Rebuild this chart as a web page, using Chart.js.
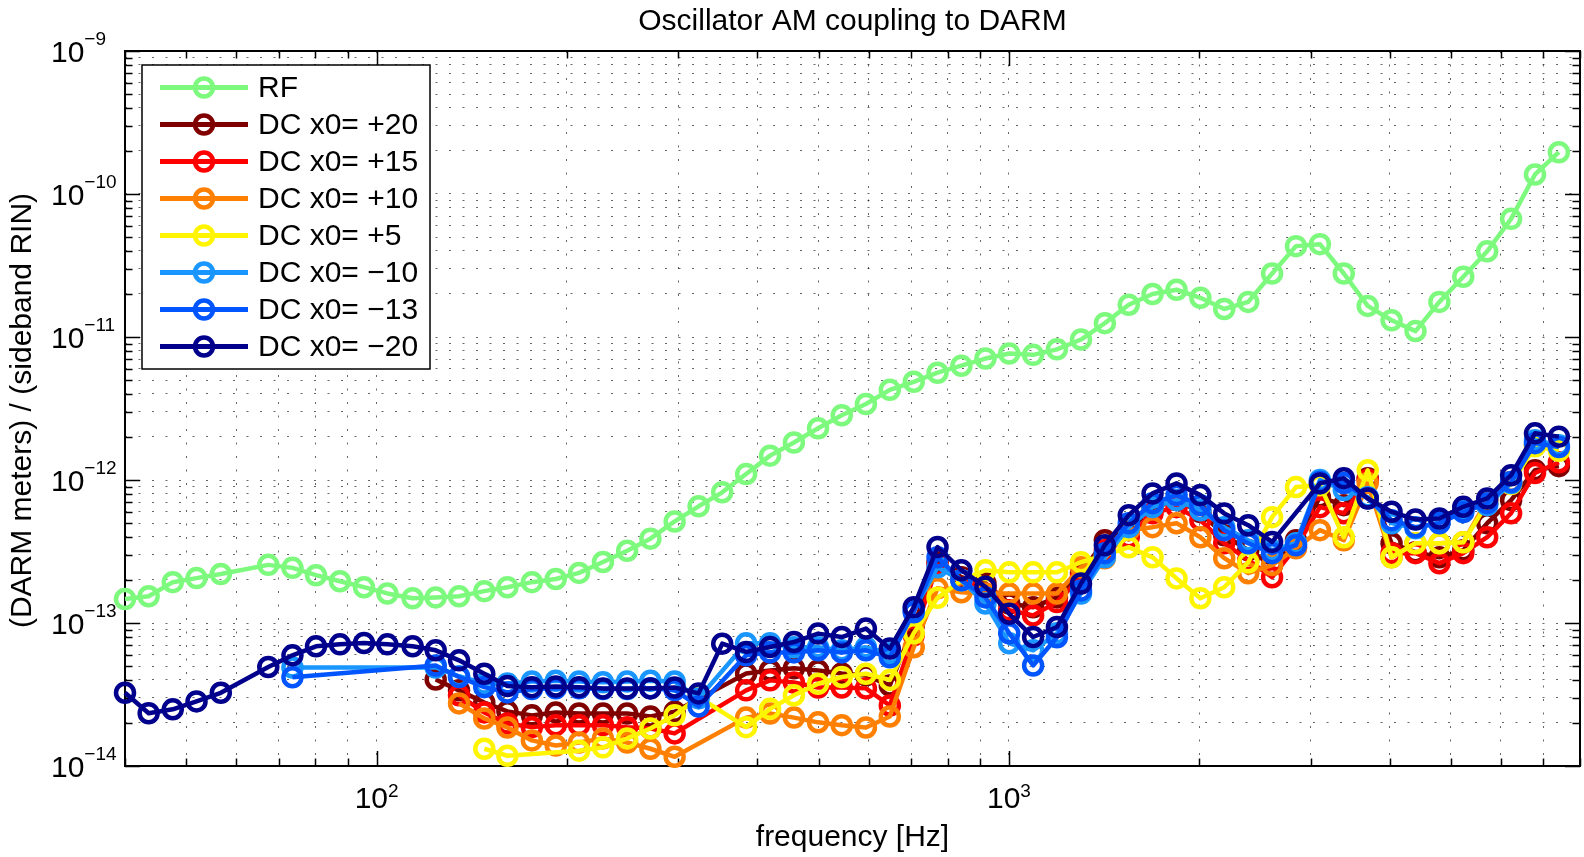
<!DOCTYPE html>
<html>
<head>
<meta charset="utf-8">
<script src="https://cdn.jsdelivr.net/npm/chart.js@4.4.1/dist/chart.umd.min.js"></script>
<style>
  html, body { margin: 0; padding: 0; background: #fff; }
  canvas { display: block; }
</style>
</head>
<body>
<canvas id="amChart" width="1584" height="857"></canvas>
<script>
// drive frequencies [Hz]
const freqs = [40, 43.6, 47.6, 51.9, 56.7, 61.8, 67.4, 73.6, 80.2, 87.5,
  95.5, 104, 114, 124, 135, 148, 161, 176, 192, 209,
  228, 249, 271, 296, 323, 352, 384, 419, 457, 499,
  544, 594, 648, 707, 771, 841, 918, 1001, 1092, 1191,
  1300, 1418, 1547, 1687, 1841, 2008, 2190, 2390, 2607, 2844,
  3103, 3385, 3693, 4028, 4395, 4794, 5230, 5706, 6225, 6791, 7408];

// DARM meters per sideband RIN, null where no point was measured
const rf = [1.47e-13, 1.54e-13, 1.93e-13, 2.06e-13, 2.2e-13, null, 2.55e-13, 2.43e-13, 2.16e-13, 1.96e-13,
  1.78e-13, 1.61e-13, 1.49e-13, 1.51e-13, 1.54e-13, 1.67e-13, 1.78e-13, 1.93e-13, 2.03e-13, 2.24e-13,
  2.67e-13, 3.2e-13, 3.89e-13, 5.13e-13, 6.55e-13, 8.2e-13, 1.1e-12, 1.48e-12, 1.83e-12, 2.3e-12,
  2.84e-12, 3.4e-12, 4.27e-12, 4.86e-12, 5.63e-12, 6.3e-12, 7.07e-12, 7.67e-12, 7.5e-12, 8.2e-12,
  9.6e-12, 1.25e-11, 1.68e-11, 2.0e-11, 2.14e-11, 1.88e-11, 1.57e-11, 1.76e-11, 2.78e-11, 4.32e-11,
  4.46e-11, 2.78e-11, 1.65e-11, 1.31e-11, 1.1e-11, 1.76e-11, 2.64e-11, 3.98e-11, 6.7e-11, 1.37e-10, 1.96e-10];

const dcP20 = [null, null, null, null, null, null, null, null, null, null,
  null, null, null, 4.03e-14, 3.38e-14, 2.78e-14, 2.41e-14, 2.26e-14, 2.37e-14, 2.33e-14,
  2.33e-14, 2.33e-14, 2.22e-14, 2.4e-14, null, null, 4.44e-14, 4.66e-14, 4.82e-14, 4.66e-14,
  4.44e-14, 4.3e-14, 3.66e-14, 9.6e-14, 2.66e-13, 2.09e-13, 1.9e-13, 1.37e-13, 1.29e-13, 1.51e-13,
  2.23e-13, 3.79e-13, 4.46e-13, 6.36e-13, 7.23e-13, 5.96e-13, 4.11e-13, 3.23e-13, 2.54e-13, 3.79e-13,
  7.59e-13, 6.67e-13, 1.03e-12, 3.61e-13, 3.13e-13, 2.88e-13, 3.23e-13, 4.99e-13, 7.23e-13, 1.17e-12, 1.25e-12];

const dcP15 = [null, null, null, null, null, null, null, null, null, null,
  null, null, null, null, 3.12e-14, 2.37e-14, 1.98e-14, 1.87e-14, 1.93e-14, 1.93e-14,
  1.93e-14, 1.87e-14, 1.83e-14, 1.69e-14, null, null, 3.38e-14, 3.97e-14, 3.84e-14, 3.54e-14,
  3.54e-14, 3.49e-14, 2.65e-14, 8.2e-14, 2.54e-13, 1.99e-13, 1.78e-13, 1.23e-13, 1.13e-13, 1.4e-13,
  2.09e-13, 3.23e-13, 3.98e-13, 5.86e-13, 6.46e-13, 5.24e-13, 3.61e-13, 2.75e-13, 2.09e-13, 3.39e-13,
  6.46e-13, 5.86e-13, 1.0e-12, 3.08e-13, 3.08e-13, 2.62e-13, 3.08e-13, 3.98e-13, 5.86e-13, 1.12e-12, 1.33e-12];

const dcP10 = [null, null, null, null, null, null, null, null, null, null,
  null, null, null, null, 2.74e-14, 2.15e-14, 1.86e-14, 1.51e-14, 1.39e-14, 1.46e-14,
  1.56e-14, 1.46e-14, 1.32e-14, 1.16e-14, null, null, 2.18e-14, 2.33e-14, 2.18e-14, 2.02e-14,
  1.93e-14, 1.86e-14, 2.22e-14, 6.76e-14, 1.75e-13, 1.64e-13, 1.61e-13, 1.61e-13, 1.61e-13, 1.61e-13,
  2.45e-13, 2.84e-13, 4.46e-13, 4.68e-13, 4.99e-13, 3.98e-13, 2.84e-13, 2.23e-13, 2.54e-13, 3.33e-13,
  4.46e-13, 3.79e-13, 9.52e-13, 2.88e-13, 3.61e-13, 3.61e-13, 3.67e-13, 7.23e-13, 9.67e-13, 1.75e-12, 1.67e-12];

const dcP5 = [null, null, null, null, null, null, null, null, null, null,
  null, null, null, null, null, 1.32e-14, 1.18e-14, null, null, 1.28e-14,
  1.35e-14, 1.56e-14, 1.83e-14, 2.26e-14, 3.03e-14, null, 1.87e-14, 2.51e-14, 3.12e-14, 3.76e-14,
  4.19e-14, 4.42e-14, 4.0e-14, 8.47e-14, 1.5e-13, 1.99e-13, 2.34e-13, 2.26e-13, 2.26e-13, 2.26e-13,
  2.66e-13, 2.98e-13, 3.39e-13, 2.88e-13, 2.05e-13, 1.49e-13, 1.78e-13, 2.66e-13, 5.5e-13, 8.92e-13,
  9.2e-13, 3.98e-13, 1.17e-12, 2.88e-13, 3.61e-13, 3.61e-13, 3.67e-13, 6.89e-13, 9.37e-13, 1.72e-12, 1.6e-12];

const dcM10 = [null, null, null, null, null, null, null, 4.89e-14, null, null,
  null, null, null, 4.89e-14, 4.24e-14, 3.78e-14, 3.78e-14, 3.9e-14, 3.95e-14, 3.9e-14,
  3.85e-14, 3.9e-14, 3.95e-14, 3.9e-14, 2.97e-14, null, 7.21e-14, 7.21e-14, 6.76e-14, 6.76e-14,
  6.44e-14, 6.76e-14, 6.14e-14, 1.23e-13, 2.45e-13, 1.99e-13, 1.37e-13, 7.21e-14, 6.44e-14, 8.47e-14,
  1.61e-13, 2.88e-13, 4.68e-13, 6.46e-13, 7.23e-13, 6.15e-13, 4.68e-13, 3.79e-13, 3.23e-13, 3.61e-13,
  1.0e-12, 8.5e-13, 7.59e-13, 4.99e-13, 4.6e-13, 5.04e-13, 6.15e-13, 6.67e-13, 9.52e-13, 1.9e-12, 1.75e-12];

const dcM13 = [null, null, null, null, null, null, null, 4.17e-14, null, null,
  null, null, null, 5.05e-14, 4.19e-14, 3.56e-14, 3.27e-14, 3.45e-14, 3.5e-14, 3.5e-14,
  3.45e-14, 3.45e-14, 3.5e-14, 3.4e-14, 2.61e-14, null, 5.94e-14, 6.23e-14, 6.23e-14, 6.44e-14,
  6.23e-14, 6.44e-14, 5.75e-14, 1.19e-13, 2.88e-13, 1.99e-13, 1.51e-13, 8.47e-14, 5.05e-14, 7.94e-14,
  1.69e-13, 3.08e-13, 4.99e-13, 6.89e-13, 7.84e-13, 6.67e-13, 4.46e-13, 3.61e-13, 3.08e-13, 3.5e-13,
  9.67e-13, 9.52e-13, 7.45e-13, 5.24e-13, 4.68e-13, 4.99e-13, 5.96e-13, 6.89e-13, 9.67e-13, 1.81e-12, 1.7e-12];

const dcM20 = [3.25e-14, 2.34e-14, 2.49e-14, 2.83e-14, 3.25e-14, null, 4.92e-14, 5.94e-14, 6.87e-14, 7.09e-14,
  7.24e-14, 7.09e-14, 6.87e-14, 6.44e-14, 5.48e-14, 4.42e-14, 3.62e-14, 3.56e-14, 3.6e-14, 3.56e-14,
  3.49e-14, 3.49e-14, 3.49e-14, 3.54e-14, 3.22e-14, 7.17e-14, 6.27e-14, 6.79e-14, 7.36e-14, 8.43e-14,
  7.98e-14, 9.14e-14, 6.62e-14, 1.29e-13, 3.4e-13, 2.34e-13, 1.79e-13, 1.16e-13, 7.98e-14, 9.37e-14,
  1.89e-13, 3.5e-13, 5.68e-13, 8.06e-13, 9.47e-13, 7.84e-13, 5.84e-13, 4.83e-13, 3.69e-13, null,
  9.47e-13, 1.03e-12, 7.43e-13, 5.99e-13, 5.3e-13, 5.38e-13, 6.49e-13, 7.43e-13, 1.08e-12, 2.12e-12, 2.01e-12];

const seriesLabels = ['RF', 'DC x0= +20', 'DC x0= +15', 'DC x0= +10', 'DC x0= +5',
  'DC x0= \u221210', 'DC x0= \u221213', 'DC x0= \u221220'];
const seriesColors = ['rgb(125,250,125)', 'rgb(128,0,0)', 'rgb(255,0,0)', 'rgb(255,128,0)',
  'rgb(255,245,0)', 'rgb(25,150,255)', 'rgb(0,85,255)', 'rgb(0,0,140)'];
const seriesValues = [rf, dcP20, dcP15, dcP10, dcP5, dcM10, dcM13, dcM20];

const xTickExps = [2, 3];
const yTickExps = [-9, -10, -11, -12, -13, -14];

const FONT = '"Liberation Sans", Arial, Helvetica, sans-serif';

// 1..9 x 10^n positions for the log grid
function decadeSteps(lo, hi) {
  const out = [];
  for (let e = Math.floor(Math.log10(lo)); e <= Math.ceil(Math.log10(hi)); e++) {
    for (let m = 1; m <= 9; m++) {
      const v = m * Math.pow(10, e);
      if (v >= lo * 0.999 && v <= hi * 1.001) out.push(v);
    }
  }
  return out;
}
const isDecade = v => Math.abs(Math.log10(v) - Math.round(Math.log10(v))) < 1e-6;
const xGrid = decadeSteps(40, 8000);
const yGrid = decadeSteps(1e-14, 1e-9);

function expText(e) {
  return e < 0 ? '\u2212' + Math.abs(e) : String(e);
}

const framePlugin = {
  id: 'frame',
  beforeDatasetsDraw(chart) {
    const {ctx, chartArea: a, scales} = chart;
    ctx.save();
    ctx.strokeStyle = '#000';
    ctx.lineWidth = 1.5;
    ctx.beginPath();
    xGrid.forEach(v => {
      const px = Math.round(scales.x.getPixelForValue(v)) + 0.5;
      const len = isDecade(v) ? 15 : 7.5;
      ctx.moveTo(px, a.bottom); ctx.lineTo(px, a.bottom - len);
      ctx.moveTo(px, a.top); ctx.lineTo(px, a.top + len);
    });
    yGrid.forEach(v => {
      const py = Math.round(scales.y.getPixelForValue(v)) + 0.5;
      const len = isDecade(v) ? 15 : 7.5;
      ctx.moveTo(a.left, py); ctx.lineTo(a.left + len, py);
      ctx.moveTo(a.right, py); ctx.lineTo(a.right - len, py);
    });
    ctx.stroke();
    ctx.lineWidth = 2;
    ctx.strokeRect(a.left, a.top, a.right - a.left, a.bottom - a.top);
    ctx.restore();
  },
  afterDraw(chart) {
    const {ctx, chartArea: a, scales} = chart;
    ctx.save();
    ctx.fillStyle = '#000';

    // tick labels 10^n
    ctx.textAlign = 'left';
    ctx.textBaseline = 'alphabetic';
    ctx.font = '30px ' + FONT;
    const w10 = ctx.measureText('10').width;
    yTickExps.forEach(e => {
      const py = scales.y.getPixelForValue(Math.pow(10, e));
      ctx.font = '30px ' + FONT;
      ctx.fillText('10', 51, py + 10.5);
      ctx.font = '19px ' + FONT;
      ctx.fillText(expText(e), 51 + w10, py - 6);
    });
    xTickExps.forEach(e => {
      const px = scales.x.getPixelForValue(Math.pow(10, e));
      ctx.font = '19px ' + FONT;
      const we = ctx.measureText(expText(e)).width;
      const x0 = px - (w10 + we) / 2;
      ctx.font = '30px ' + FONT;
      ctx.fillText('10', x0, 808);
      ctx.font = '19px ' + FONT;
      ctx.fillText(expText(e), x0 + w10, 797);
    });

    // title and axis labels
    ctx.font = '30px ' + FONT;
    ctx.textAlign = 'center';
    const cx = (a.left + a.right) / 2;
    ctx.fillText('Oscillator AM coupling to DARM', cx, 30);
    ctx.fillText('frequency [Hz]', cx, 846);
    ctx.save();
    ctx.translate(31, (a.top + a.bottom) / 2 + 2);
    ctx.rotate(-Math.PI / 2);
    ctx.fillText('(DARM meters) / (sideband RIN)', 0, 0);
    ctx.restore();

    // legend box
    const box = {x: 142, y: 65, w: 288, h: 304};
    ctx.fillStyle = '#fff';
    ctx.fillRect(box.x, box.y, box.w, box.h);
    ctx.strokeStyle = '#000';
    ctx.lineWidth = 1.5;
    ctx.strokeRect(box.x, box.y, box.w, box.h);
    seriesLabels.forEach((lab, k) => {
      const ry = 87.5 + k * 37;
      ctx.strokeStyle = seriesColors[k];
      ctx.lineWidth = 5;
      ctx.beginPath();
      ctx.moveTo(160, ry); ctx.lineTo(248, ry);
      ctx.stroke();
      ctx.lineWidth = 4.5;
      ctx.beginPath();
      ctx.arc(204, ry, 9, 0, Math.PI * 2);
      ctx.stroke();
      ctx.fillStyle = '#000';
      ctx.font = '30px ' + FONT;
      ctx.textAlign = 'left';
      ctx.textBaseline = 'middle';
      ctx.fillText(lab, 258, ry + 1);
    });
    ctx.restore();
  }
};

const datasets = seriesValues.map((vals, k) => ({
  label: seriesLabels[k],
  data: freqs.map((f, i) => ({x: f, y: vals[i]})).filter(p => p.y !== null),
  borderColor: seriesColors[k],
  backgroundColor: 'rgba(0,0,0,0)',
  pointBorderColor: seriesColors[k],
  pointBackgroundColor: 'rgba(0,0,0,0)',
  borderWidth: 4.5,
  borderJoinStyle: 'round',
  pointRadius: 9,
  pointHoverRadius: 9,
  pointBorderWidth: 4.5,
  tension: 0,
  clip: false,
  // later series sit on top
  order: seriesValues.length - 1 - k
}));

const gridOpts = {color: 'rgba(0,0,0,0.6)', lineWidth: 1, drawTicks: false};

new Chart(document.getElementById('amChart'), {
  type: 'line',
  data: {datasets: datasets},
  options: {
    responsive: false,
    animation: false,
    devicePixelRatio: 1,
    events: [],
    layout: {autoPadding: false, padding: {left: 125, top: 51, right: 4, bottom: 91}},
    plugins: {
      legend: {display: false},
      tooltip: {enabled: false},
      title: {display: false}
    },
    scales: {
      x: {
        type: 'logarithmic',
        min: 40,
        max: 8000,
        afterBuildTicks: axis => { axis.ticks = xGrid.map(v => ({value: v})); },
        ticks: {display: false},
        grid: gridOpts,
        border: {display: false, dash: [2, 11.5]}
      },
      y: {
        type: 'logarithmic',
        min: 1e-14,
        max: 1e-9,
        afterBuildTicks: axis => { axis.ticks = yGrid.map(v => ({value: v})); },
        ticks: {display: false},
        grid: gridOpts,
        border: {display: false, dash: [2, 11.5]}
      }
    }
  },
  plugins: [framePlugin]
});
</script>
</body>
</html>
